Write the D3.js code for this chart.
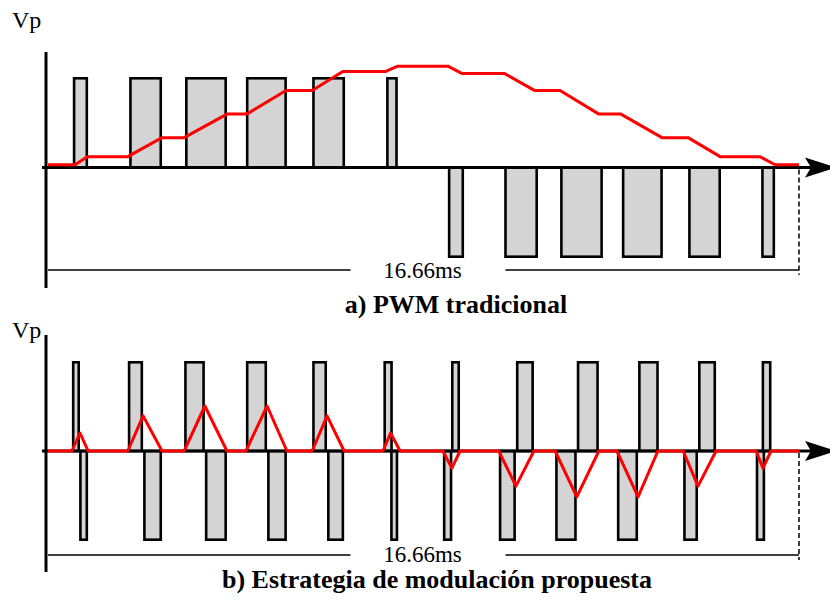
<!DOCTYPE html>
<html>
<head>
<meta charset="utf-8">
<script src="https://cdn.jsdelivr.net/npm/d3@7"></script>
<style>
  body { margin: 0; background: #fff; }
</style>
</head>
<body>
<div id="chart"></div>
<script>
const periodMs = 16.66;
const periodLabel = "16.66ms";
const axisLabel = "Vp";
const titles = ["a) PWM tradicional", "b) Estrategia de modulación propuesta"];

// pulses: [start ms, end ms, level]
const pwmPulses = [
  [0.55, 0.89, 1], [1.80, 2.53, 1], [3.04, 3.97, 1], [4.39, 5.30, 1], [5.86, 6.59, 1], [7.50, 7.76, 1],
  [8.87, 9.23, -1], [10.12, 10.87, -1], [11.36, 12.31, -1], [12.73, 13.64, -1], [14.20, 14.93, -1], [15.82, 16.13, -1]
];

// red average curve of the traditional PWM: [ms, level]
const pwmAverage = [
  [0, 0.03], [0.60, 0.03], [0.87, 0.12], [1.77, 0.12], [2.53, 0.33], [3.02, 0.33],
  [3.97, 0.59], [4.41, 0.59], [5.28, 0.85], [5.86, 0.85], [6.54, 1.06], [7.48, 1.06],
  [7.76, 1.12], [8.87, 1.12], [9.18, 1.04], [10.12, 1.04], [10.80, 0.85], [11.36, 0.85],
  [12.22, 0.59], [12.71, 0.59], [13.62, 0.33], [14.20, 0.33], [14.91, 0.12], [15.79, 0.12],
  [16.13, 0.03], [16.66, 0.03]
];

const proposedPulses = [
  [0.53, 0.71, 1], [0.69, 0.89, -1],
  [1.77, 2.11, 1], [2.11, 2.53, -1],
  [3.02, 3.48, 1], [3.48, 3.97, -1],
  [4.39, 4.86, 1], [4.86, 5.30, -1],
  [5.86, 6.19, 1], [6.19, 6.57, -1],
  [7.44, 7.65, 1], [7.59, 7.77, -1],
  [8.76, 8.97, -1], [8.94, 9.14, 1],
  [10.00, 10.38, -1], [10.38, 10.78, 1],
  [11.25, 11.73, -1], [11.73, 12.22, 1],
  [12.62, 13.09, -1], [13.09, 13.55, 1],
  [14.09, 14.42, -1], [14.42, 14.82, 1],
  [15.70, 15.91, -1], [15.83, 16.05, 1]
];

const proposedAverage = [
  [0, 0], [0.53, 0], [0.71, 0.2], [0.89, 0],
  [1.77, 0], [2.11, 0.39], [2.53, 0],
  [3.02, 0], [3.48, 0.5], [3.97, 0],
  [4.39, 0], [4.86, 0.5], [5.30, 0],
  [5.86, 0], [6.19, 0.39], [6.57, 0],
  [7.43, 0], [7.60, 0.2], [7.81, 0],
  [8.76, 0], [8.96, -0.19], [9.14, 0],
  [10.00, 0], [10.38, -0.39], [10.78, 0],
  [11.25, 0], [11.73, -0.51], [12.22, 0],
  [12.62, 0], [13.09, -0.51], [13.53, 0],
  [14.09, 0], [14.42, -0.39], [14.82, 0],
  [15.71, 0], [15.86, -0.19], [16.04, 0],
  [16.66, 0]
];

const w = 830, h = 602;
const sw = 2.6;
const serif = "'Liberation Serif', 'Times New Roman', Times, 'DejaVu Serif', serif";

const svg = d3.select("#chart")
  .append("svg")
  .attr("width", w)
  .attr("height", h);

const x = d3.scaleLinear().domain([0, periodMs]).range([48, 799]);

const panels = [
  { yRange: [258, 77], axisTop: 52, axisBottom: 288, dimY: 270, labelY: 278,
    titleX: 456, titleY: 313, vpY: 28, pulses: pwmPulses, avg: pwmAverage, title: titles[0] },
  { yRange: [541, 361], axisTop: 335, axisBottom: 572, dimY: 555, labelY: 562,
    titleX: 437, titleY: 588, vpY: 338, pulses: proposedPulses, avg: proposedAverage, title: titles[1] }
];

panels.forEach(p => {
  const y = d3.scaleLinear().domain([-1, 1]).range(p.yRange);
  const y0 = y(0);
  const g = svg.append("g");

  // pulses
  g.selectAll("rect.pulse")
    .data(p.pulses)
    .enter()
    .append("rect")
    .attr("class", "pulse")
    .attr("x", d => x(d[0]) + sw / 2)
    .attr("width", d => x(d[1]) - x(d[0]) - sw)
    .attr("y", d => d[2] > 0 ? y(d[2]) + sw / 2 : y0)
    .attr("height", d => Math.abs(y(d[2]) - y0) - sw / 2)
    .attr("fill", "#d4d4d4")
    .attr("stroke", "#000")
    .attr("stroke-width", sw);

  // zero axis + arrow
  g.append("line")
    .attr("x1", 42).attr("x2", 812)
    .attr("y1", y0).attr("y2", y0)
    .attr("stroke", "#000").attr("stroke-width", 3);

  g.append("path")
    .attr("d", `M805,${y0 - 10} L836,${y0} L805,${y0 + 10} L811,${y0} Z`)
    .attr("fill", "#000");

  // vertical axis
  g.append("line")
    .attr("x1", 46).attr("x2", 46)
    .attr("y1", p.axisTop).attr("y2", p.axisBottom)
    .attr("stroke", "#000").attr("stroke-width", 3);

  // red average curve
  g.append("path")
    .datum(p.avg)
    .attr("d", d3.line().x(d => x(d[0])).y(d => y(d[1])))
    .attr("fill", "none")
    .attr("stroke", "#ff0000")
    .attr("stroke-width", 3)
    .attr("stroke-linejoin", "round");

  // period end marker
  g.append("line")
    .attr("x1", x(periodMs)).attr("x2", x(periodMs))
    .attr("y1", y0 + 2).attr("y2", p.dimY + 5)
    .attr("stroke", "#000").attr("stroke-width", 1.5)
    .attr("stroke-dasharray", "5,3");

  // period dimension line
  const cx = x(periodMs / 2);
  g.append("line")
    .attr("x1", x(0)).attr("x2", cx - 73)
    .attr("y1", p.dimY).attr("y2", p.dimY)
    .attr("stroke", "#000").attr("stroke-width", 1.5);
  g.append("line")
    .attr("x1", cx + 82).attr("x2", x(periodMs))
    .attr("y1", p.dimY).attr("y2", p.dimY)
    .attr("stroke", "#000").attr("stroke-width", 1.5);

  g.append("text")
    .attr("x", cx - 1).attr("y", p.labelY)
    .attr("text-anchor", "middle")
    .attr("font-family", serif)
    .attr("font-size", 23)
    .text(periodLabel);

  g.append("text")
    .attr("x", 12).attr("y", p.vpY)
    .attr("font-family", serif)
    .attr("font-size", 24)
    .text(axisLabel);

  g.append("text")
    .attr("x", p.titleX).attr("y", p.titleY)
    .attr("text-anchor", "middle")
    .attr("font-family", serif)
    .attr("font-size", 26)
    .attr("font-weight", "bold")
    .text(p.title);
});
</script>
</body>
</html>
